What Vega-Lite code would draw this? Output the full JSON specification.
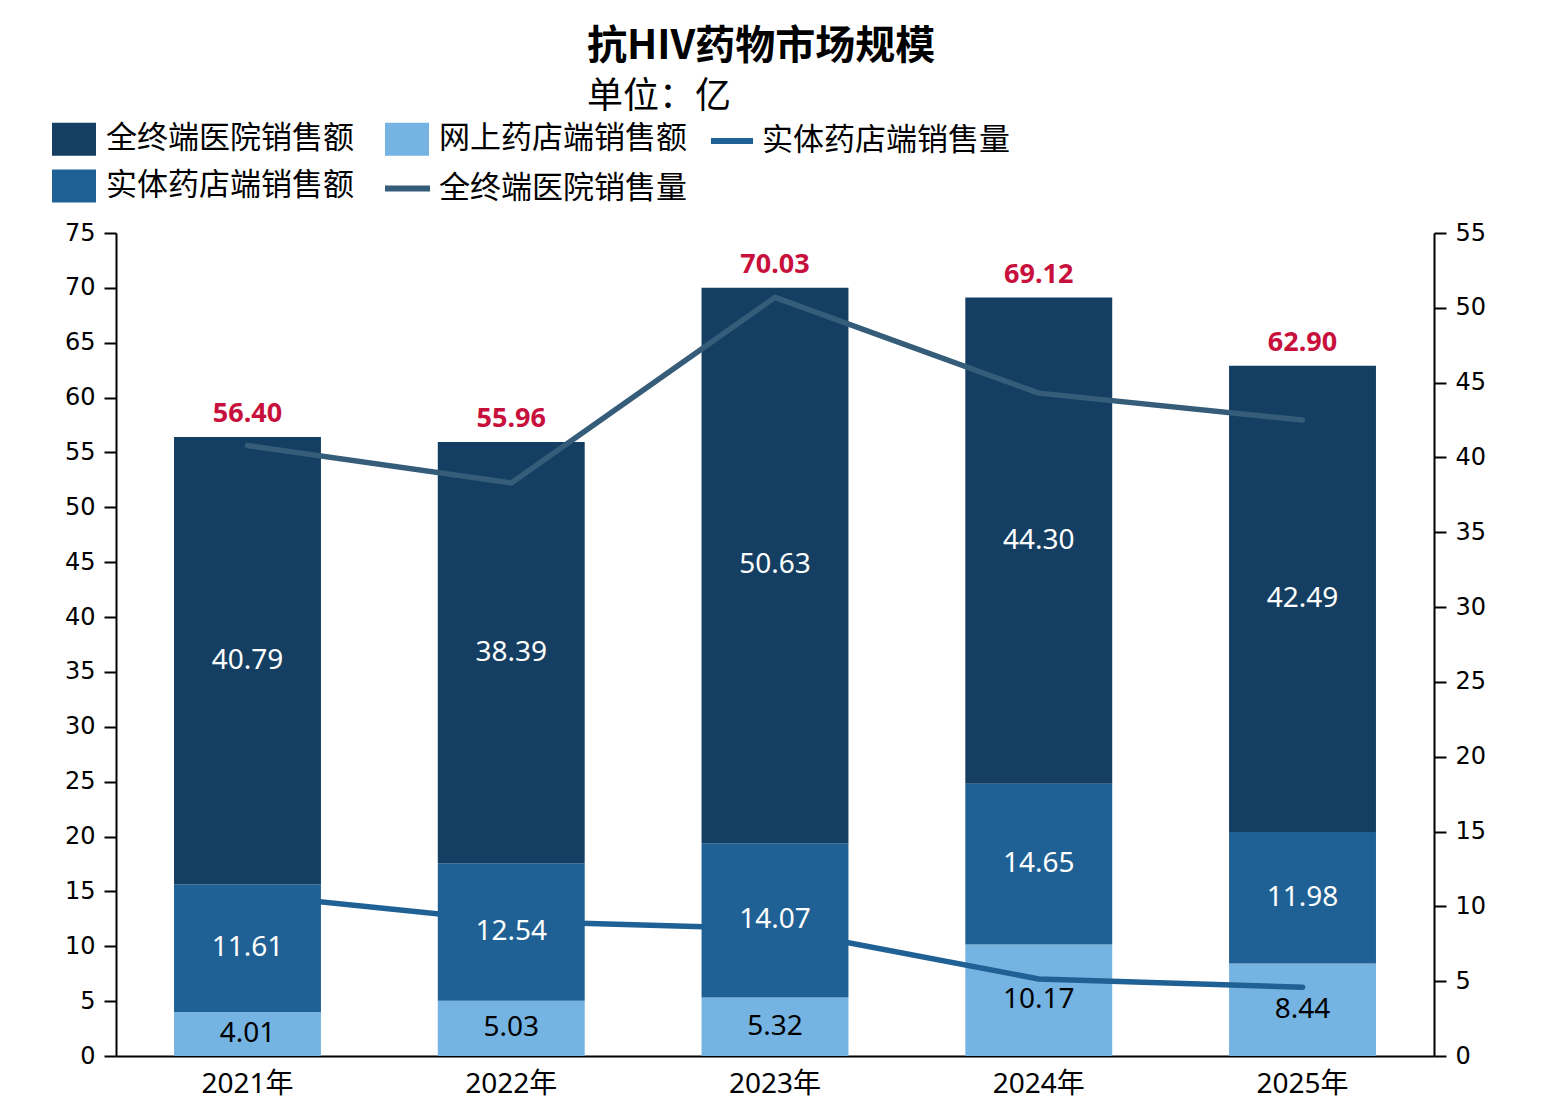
{
  "$schema": "https://vega.github.io/schema/vega-lite/v6.json",
  "width": 1318,
  "height": 823,
  "autosize": {"type": "none"},
  "padding": {"left": 116, "top": 233, "right": 119, "bottom": 59},
  "background": "white",
  "title": {
    "text": "抗HIV药物市场规模",
    "subtitle": "单位：亿",
    "anchor": "start",
    "frame": "group",
    "dx": 471,
    "offset": 2,
    "font": "Noto Sans CJK SC",
    "fontSize": 40,
    "fontWeight": "bold",
    "color": "#000000",
    "subtitleFont": "Noto Sans CJK SC",
    "subtitleFontSize": 36,
    "subtitleColor": "#000000",
    "subtitlePadding": 13
  },
  "datasets": {
    "sales": [
      {"year": "2021年", "seg": "网上药店端销售额", "k": 1, "v": 4.01},
      {"year": "2021年", "seg": "实体药店端销售额", "k": 2, "v": 11.61},
      {"year": "2021年", "seg": "全终端医院销售额", "k": 3, "v": 40.79},
      {"year": "2022年", "seg": "网上药店端销售额", "k": 1, "v": 5.03},
      {"year": "2022年", "seg": "实体药店端销售额", "k": 2, "v": 12.54},
      {"year": "2022年", "seg": "全终端医院销售额", "k": 3, "v": 38.39},
      {"year": "2023年", "seg": "网上药店端销售额", "k": 1, "v": 5.32},
      {"year": "2023年", "seg": "实体药店端销售额", "k": 2, "v": 14.07},
      {"year": "2023年", "seg": "全终端医院销售额", "k": 3, "v": 50.63},
      {"year": "2024年", "seg": "网上药店端销售额", "k": 1, "v": 10.17},
      {"year": "2024年", "seg": "实体药店端销售额", "k": 2, "v": 14.65},
      {"year": "2024年", "seg": "全终端医院销售额", "k": 3, "v": 44.30},
      {"year": "2025年", "seg": "网上药店端销售额", "k": 1, "v": 8.44},
      {"year": "2025年", "seg": "实体药店端销售额", "k": 2, "v": 11.98},
      {"year": "2025年", "seg": "全终端医院销售额", "k": 3, "v": 42.49}
    ],
    "totals": [
      {"year": "2021年", "total": 56.40},
      {"year": "2022年", "total": 55.96},
      {"year": "2023年", "total": 70.03},
      {"year": "2024年", "total": 69.12},
      {"year": "2025年", "total": 62.90}
    ],
    "qty": [
      {"year": "2021年", "s": "实体药店端销售量", "q": 10.8},
      {"year": "2022年", "s": "实体药店端销售量", "q": 9.0},
      {"year": "2023年", "s": "实体药店端销售量", "q": 8.5},
      {"year": "2024年", "s": "实体药店端销售量", "q": 5.15},
      {"year": "2025年", "s": "实体药店端销售量", "q": 4.6},
      {"year": "2021年", "s": "全终端医院销售量", "q": 40.8},
      {"year": "2022年", "s": "全终端医院销售量", "q": 38.3},
      {"year": "2023年", "s": "全终端医院销售量", "q": 50.7},
      {"year": "2024年", "s": "全终端医院销售量", "q": 44.3},
      {"year": "2025年", "s": "全终端医院销售量", "q": 42.5}
    ]
  },
  "encoding": {
    "x": {
      "field": "year",
      "type": "nominal",
      "sort": null,
      "title": null,
      "scale": {"paddingInner": 0.443, "paddingOuter": 0.22},
      "axis": {
        "orient": "bottom",
        "ticks": false,
        "labelAngle": 0,
        "labelFont": "Noto Sans, Noto Sans CJK SC",
        "labelFontSize": 28,
        "labelPadding": 14,
        "domainColor": "#000000",
        "domainWidth": 2
      }
    }
  },
  "layer": [
    {
      "data": {"name": "sales"},
      "mark": {"type": "bar"},
      "encoding": {
        "y": {
          "field": "v",
          "type": "quantitative",
          "stack": "zero",
          "title": null,
          "scale": {"domain": [0, 75], "nice": false},
          "axis": {
            "orient": "left",
            "values": [0, 5, 10, 15, 20, 25, 30, 35, 40, 45, 50, 55, 60, 65, 70, 75],
            "labelFont": "DejaVu Sans",
            "labelFontSize": 24,
            "labelPadding": 9,
            "tickSize": 12,
            "tickWidth": 2,
            "tickColor": "#000000",
            "domainColor": "#000000",
            "domainWidth": 2
          }
        },
        "color": {
          "field": "seg",
          "type": "nominal",
          "scale": {
            "domain": ["全终端医院销售额", "实体药店端销售额", "网上药店端销售额"],
            "range": ["#143f62", "#1f6194", "#74b3e2"]
          },
          "legend": {
            "orient": "none",
            "legendX": -64,
            "legendY": -116,
            "title": null,
            "columns": 2,
            "padding": 0,
            "symbolType": "M-1,-0.75H1V0.75H-1Z",
            "symbolSize": 1936,
            "symbolStrokeWidth": 0,
            "symbolOpacity": 1,
            "labelFont": "Noto Sans CJK SC",
            "labelFontSize": 31,
            "labelColor": "#000000",
            "labelOffset": 10,
            "labelLimit": 0,
            "columnPadding": 31,
            "rowPadding": 8
          }
        },
        "order": {"field": "k", "type": "quantitative"}
      }
    },
    {
      "data": {"name": "qty"},
      "encoding": {
        "y": {
          "field": "q",
          "type": "quantitative",
          "title": null,
          "scale": {"domain": [0, 55], "nice": false},
          "axis": {
            "orient": "right",
            "values": [0, 5, 10, 15, 20, 25, 30, 35, 40, 45, 50, 55],
            "labelFont": "DejaVu Sans",
            "labelFontSize": 24,
            "labelPadding": 9,
            "tickSize": 12,
            "tickWidth": 2,
            "tickColor": "#000000",
            "domainColor": "#000000",
            "domainWidth": 2
          }
        }
      },
      "layer": [
        {
          "transform": [{"filter": "datum.s == '实体药店端销售量'"}],
          "mark": {"type": "line", "strokeWidth": 5.5, "strokeCap": "round", "strokeJoin": "round"},
          "encoding": {
            "stroke": {
              "datum": "实体药店端销售量",
              "type": "nominal",
              "scale": {"range": ["#1f6194"]},
              "legend": {
                "orient": "none",
                "legendX": 592,
                "legendY": -116,
                "title": null,
                "padding": 0,
                "symbolType": "stroke",
                "symbolSize": 1764,
                "symbolStrokeWidth": 6,
                "labelFont": "Noto Sans CJK SC",
                "labelFontSize": 31,
                "labelColor": "#000000",
                "labelOffset": 6,
                "labelLimit": 0
              }
            }
          }
        },
        {
          "transform": [{"filter": "datum.s == '全终端医院销售量'"}],
          "mark": {"type": "line", "strokeWidth": 5.5, "strokeCap": "round", "strokeJoin": "round"},
          "encoding": {
            "stroke": {
              "datum": "全终端医院销售量",
              "type": "nominal",
              "scale": {"range": ["#355d7a"]},
              "legend": {
                "orient": "none",
                "legendX": 266,
                "legendY": -70,
                "title": null,
                "padding": 0,
                "symbolType": "stroke",
                "symbolSize": 2025,
                "symbolStrokeWidth": 6,
                "labelFont": "Noto Sans CJK SC",
                "labelFontSize": 31,
                "labelColor": "#000000",
                "labelOffset": 6,
                "labelLimit": 0
              }
            }
          }
        }
      ],
      "resolve": {"scale": {"stroke": "independent"}, "legend": {"stroke": "independent"}}
    },
    {
      "layer": [
        {
          "data": {"name": "sales"},
          "mark": {"type": "text", "font": "Noto Sans", "fontSize": 28, "baseline": "middle", "align": "center"},
          "encoding": {
            "y": {"field": "v", "type": "quantitative", "stack": "zero", "bandPosition": 0.5, "title": null, "axis": null, "scale": {"domain": [0, 75], "nice": false}},
            "detail": {"field": "seg"},
            "order": {"field": "k", "type": "quantitative"},
            "text": {"field": "v", "type": "quantitative", "format": ".2f"},
            "color": {"condition": {"test": "datum.k == 1", "value": "#000000"}, "value": "#ffffff"}
          }
        },
        {
          "data": {"name": "totals"},
          "mark": {"type": "text", "font": "Noto Sans", "fontSize": 27, "fontWeight": "bold", "baseline": "alphabetic", "align": "center", "dy": -15, "color": "#c8103c"},
          "encoding": {
            "y": {"field": "total", "type": "quantitative", "title": null, "axis": null, "scale": {"domain": [0, 75], "nice": false}},
            "text": {"field": "total", "type": "quantitative", "format": ".2f"}
          }
        }
      ]
    }
  ],
  "resolve": {"scale": {"y": "independent"}},
  "config": {
    "view": {"stroke": null},
    "axis": {"grid": false, "labelColor": "#000000"}
  }
}
